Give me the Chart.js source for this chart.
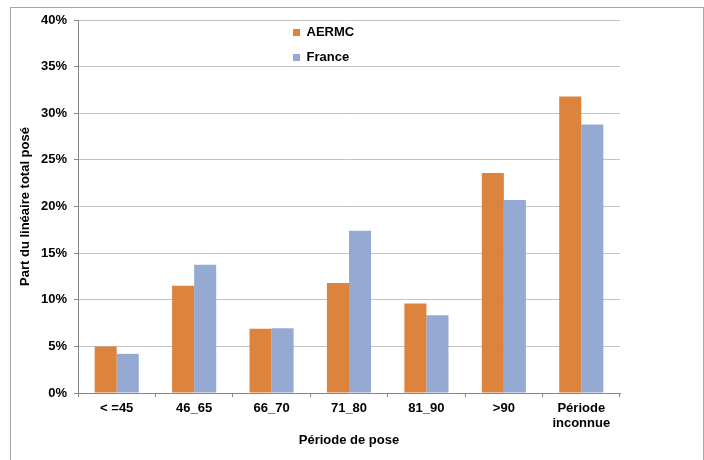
<!DOCTYPE html>
<html>
<head>
<meta charset="utf-8">
<script src="https://cdn.jsdelivr.net/npm/chart.js@4"></script>
<style>
    html, body { margin: 0; padding: 0; background: #fff; overflow: hidden; }
    #wrap { position: relative; width: 704px; height: 460px; }
    #frame {
        position: absolute; left: 10px; top: 7px; width: 692px; height: 500px;
        border: 1px solid #a6a6a6; pointer-events: none;
    }
    canvas { position: absolute; left: 0; top: 0; }
</style>
</head>
<body>
<div id="wrap">
    <canvas id="poseChart" width="704" height="460"></canvas>
    <div id="frame"></div>
</div>
<script>
// Données (en %)
const periodes = ['< =45', '46_65', '66_70', '71_80', '81_90', '>90', ['Période', 'inconnue']];
const aermc = [5.0, 11.5, 6.9, 11.8, 9.6, 23.6, 31.8];
const france = [4.2, 13.75, 6.95, 17.4, 8.35, 20.7, 28.8];
const yTicksMax = 40;
const yTicksStep = 5;

const FONT = 'Liberation Sans, Arial, sans-serif';

// move the legend inside the plot, under the top gridline
const legendPlacer = {
    id: 'legendPlacer',
    afterLayout(chart) {
        const lg = chart.legend;
        if (!lg) return;
        const w = lg.width, h = lg.height;
        lg.left = 281;
        lg.top = 14;
        lg.right = lg.left + w;
        lg.bottom = lg.top + h;
    }
};

document.addEventListener('DOMContentLoaded', function() {
    const ctx = document.getElementById('poseChart').getContext('2d');
    new Chart(ctx, {
        type: 'bar',
        data: {
            labels: periodes,
            datasets: [
                {
                    label: 'AERMC',
                    data: aermc,
                    backgroundColor: '#dc843e',
                    borderWidth: 0
                },
                {
                    label: 'France',
                    data: france,
                    backgroundColor: '#95aad2',
                    borderWidth: 0
                }
            ]
        },
        options: {
            responsive: false,
            animation: false,
            categoryPercentage: 0.57,
            barPercentage: 1.0,
            layout: {
                padding: { left: 12, top: 20, right: 84, bottom: 10 }
            },
            scales: {
                y: {
                    min: 0,
                    max: yTicksMax,
                    afterFit(scale) { scale.width = 66; },
                    ticks: {
                        stepSize: yTicksStep,
                        padding: 7,
                        color: '#000',
                        font: { family: FONT, size: 13, weight: 'bold' },
                        callback: v => v + '%'
                    },
                    grid: {
                        color: '#c3c3c3',
                        tickColor: '#868686',
                        tickLength: 4
                    },
                    border: { color: '#868686' },
                    title: {
                        display: true,
                        text: 'Part du linéaire total posé',
                        color: '#000',
                        padding: { top: 6, bottom: 0 },
                        font: { family: FONT, size: 13, weight: 'bold' }
                    }
                },
                x: {
                    afterFit(scale) { scale.height = 57; },
                    ticks: {
                        padding: 4,
                        color: '#000',
                        maxRotation: 0,
                        font: { family: FONT, size: 13, weight: 'bold', lineHeight: 1.15 }
                    },
                    grid: {
                        drawOnChartArea: false,
                        color: '#868686',
                        tickLength: 4
                    },
                    border: { color: '#868686' },
                    title: {
                        display: true,
                        text: 'Période de pose',
                        color: '#000',
                        padding: { top: 4, bottom: 2 },
                        font: { family: FONT, size: 13, weight: 'bold' }
                    }
                }
            },
            plugins: {
                legend: {
                    display: true,
                    position: 'chartArea',
                    align: 'start',
                    labels: {
                        boxWidth: 7,
                        boxHeight: 7,
                        padding: 12,
                        color: '#000',
                        font: { family: FONT, size: 13, weight: 'bold' }
                    }
                },
                tooltip: { enabled: false }
            }
        },
        plugins: [legendPlacer]
    });
});
</script>
</body>
</html>
